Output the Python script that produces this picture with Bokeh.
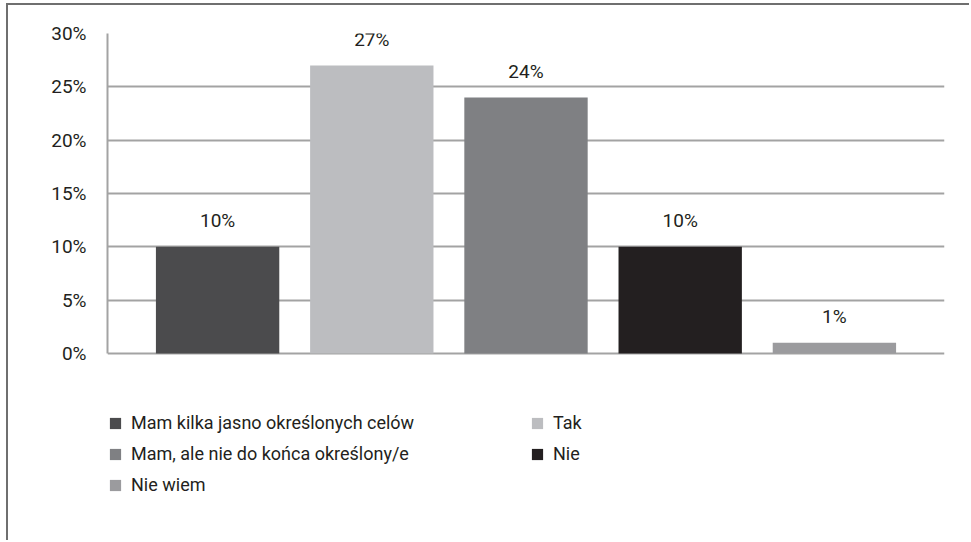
from bokeh.plotting import figure
from bokeh.models import (ColumnDataSource, Range1d, FixedTicker, PrintfTickFormatter,
                          Legend, LegendItem)
from bokeh.core.properties import value
from bokeh.embed import file_html
from bokeh.resources import INLINE

# Survey answers and their shares (%)
categories = [
    "Mam kilka jasno określonych celów",
    "Tak",
    "Mam, ale nie do końca określony/e",
    "Nie",
    "Nie wiem",
]
shares = [10, 27, 24, 10, 1]
colors = ["#4b4b4d", "#bcbdc0", "#7f8083", "#231f20", "#9b9b9e"]
y_ticks = [0, 5, 10, 15, 20, 25, 30]

FONT = "Roboto"
FONT_SIZE = "19px"
LEGEND_FONT_SIZE = "18px"
TEXT_COLOR = "#231f20"
GRID_COLOR = "#a3a3a3"

positions = list(range(1, len(categories) + 1))
source = ColumnDataSource(dict(
    x=positions,
    share=shares,
    color=colors,
    label=[f"{v}%" for v in shares],
))

# The frame runs down to the bottom edge so that the legend can sit under
# the bars; the axis and grid are bounded to 0-30 %.
p = figure(
    width=963, height=537,
    x_range=Range1d(0.286, 5.714), y_range=Range1d(-17.72, 30),
    output_backend="svg", toolbar_location=None,
    min_border_left=99, min_border_right=27,
    min_border_top=28, min_border_bottom=0,
)
p.styles = {
    "margin-left": "6px",
    "margin-top": "3px",
    "border-top": "2px solid #6f6f6f",
    "border-left": "2px solid #6f6f6f",
}
p.outline_line_color = None
p.background_fill_color = "white"
p.border_fill_color = "white"

bars = p.vbar(x="x", top="share", width=0.8, bottom=0, color="color",
              line_color=None, source=source)

p.text(x="x", y="share", text="label", source=source,
       text_align="center", text_baseline="alphabetic", y_offset=-26,
       text_font=value(FONT), text_font_size=FONT_SIZE, text_color=TEXT_COLOR)

# axes
p.xaxis.visible = False
p.xgrid.visible = False
yax = p.yaxis[0]
yax.bounds = (0, 30)
yax.ticker = FixedTicker(ticks=y_ticks)
yax.formatter = PrintfTickFormatter(format="%d%%")
yax.axis_line_color = GRID_COLOR
yax.axis_line_width = 2
yax.major_tick_line_color = None
yax.minor_tick_line_color = None
yax.major_tick_out = 0
yax.major_tick_in = 0
yax.major_label_standoff = 21
yax.major_label_text_font = FONT
yax.major_label_text_font_size = FONT_SIZE
yax.major_label_text_color = TEXT_COLOR

p.ygrid.ticker = FixedTicker(ticks=y_ticks)
p.ygrid.grid_line_color = GRID_COLOR
p.ygrid.grid_line_width = 2

# legend: two columns, filled row by row, under the bars
items = [LegendItem(label=categories[i], renderers=[bars], index=i)
         for i in range(len(categories))]
legend = Legend(
    items=items, location=(1, 46), orientation="horizontal", ncols=2,
    glyph_width=14, glyph_height=14, label_standoff=9,
    label_height=23, label_width=391, spacing=8, padding=0, margin=0,
    label_text_font=FONT, label_text_font_size=LEGEND_FONT_SIZE,
    label_text_color=TEXT_COLOR,
    border_line_color=None, background_fill_alpha=0,
)
p.add_layout(legend, "center")

open("out.html", "w").write(file_html(p, INLINE))
